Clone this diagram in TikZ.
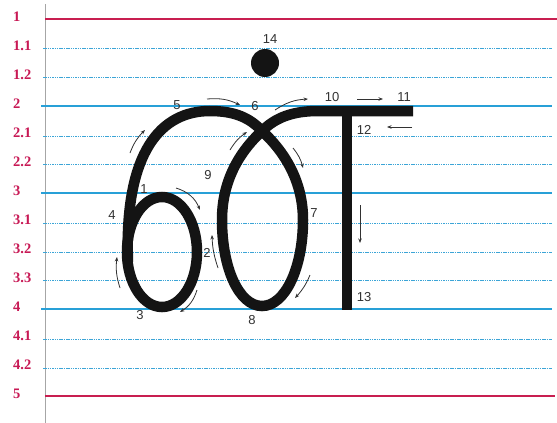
\documentclass[tikz,border=0pt]{standalone}
\usepackage{fontspec}
\setmainfont{Liberation Sans}
\newfontfamily\lblfont{Liberation Serif}
\usetikzlibrary{arrows.meta}
\definecolor{redline}{RGB}{200,30,80}
\definecolor{blueline}{RGB}{40,160,215}
\definecolor{dotline}{RGB}{60,165,215}
\definecolor{lblred}{RGB}{200,25,85}
\definecolor{ink}{RGB}{20,20,20}
\definecolor{numgray}{RGB}{50,50,50}
\tikzset{
  redrule/.style={draw=redline,line width=1.8pt},
  bluerule/.style={draw=blueline,line width=1.6pt},
  dotrule/.style={draw=dotline,line width=1pt,dash pattern=on 1.5pt off 0.8pt},
  rowlabel/.style={font=\lblfont\bfseries\fontsize{14.5}{14.5}\selectfont,text=lblred,anchor=west,inner sep=0pt},
  glyph/.style={draw=ink,line width=10.5pt},
  hint/.style={draw=numgray,line width=0.8pt,-{Stealth[length=4.5pt,width=3.5pt]}},
  num/.style={font=\fontsize{13}{13}\selectfont,text=numgray,inner sep=0pt}
}
\begin{document}
\begin{tikzpicture}[x=1pt,y=-1pt]
\useasboundingbox (0,0) rectangle (557,423);
\fill[white] (0,0) rectangle (557,423);
% margin line
\draw[gray!70,line width=0.8pt] (45,4) -- (45,423);
% rules
\draw[redrule] (45,19) -- (557,19);
\draw[dotrule] (43,48) -- (552,48);
\draw[dotrule] (43,77) -- (552,77);
\draw[bluerule] (41,106) -- (552,106);
\draw[dotrule] (43,136) -- (552,136);
\draw[dotrule] (43,164) -- (552,164);
\draw[bluerule] (41,193) -- (552,193);
\draw[dotrule] (43,223) -- (552,223);
\draw[dotrule] (43,252) -- (552,252);
\draw[dotrule] (43,280) -- (552,280);
\draw[bluerule] (41,309) -- (552,309);
\draw[dotrule] (43,339) -- (552,339);
\draw[dotrule] (43,368) -- (552,368);
\draw[redrule] (45,396) -- (555,396);
% row labels
\node[rowlabel] (r1) at (13,17) {1};
\node[rowlabel] (r11) at (13,46) {1.1};
\node[rowlabel] (r12) at (13,75) {1.2};
\node[rowlabel] (r2) at (13,104) {2};
\node[rowlabel] (r21) at (13,133) {2.1};
\node[rowlabel] (r22) at (13,162) {2.2};
\node[rowlabel] (r3) at (13,191) {3};
\node[rowlabel] (r31) at (13,220) {3.1};
\node[rowlabel] (r32) at (13,249) {3.2};
\node[rowlabel] (r33) at (13,278) {3.3};
\node[rowlabel] (r4) at (13,307) {4};
\node[rowlabel] (r41) at (13,336) {4.1};
\node[rowlabel] (r42) at (13,365) {4.2};
\node[rowlabel] (r5) at (13,394) {5};
% glyph strokes
\draw[glyph] (162,252) ellipse [x radius=35, y radius=55];
\draw[glyph] (128,262) .. controls (124,150) and (162,111) .. (210,111)
  .. controls (235,111) and (250,118) .. (262,131)
  .. controls (288,155) and (303,185) .. (303,220)
  .. controls (303,268) and (285,306) .. (262,306)
  .. controls (239,306) and (222,268) .. (222,220)
  .. controls (222,185) and (236,155) .. (262,131)
  .. controls (275,118) and (292,111) .. (318,111) -- (413,111);
\draw[glyph] (347,111) -- (347,310);
\fill[ink] (265,63) circle (14);
% direction hints
\draw[hint] (176,188) to[bend left=25] (200,210);
\draw[hint] (218,268) to[bend left=8] (212,235);
\draw[hint] (197,290) to[bend left=20] (180,312);
\draw[hint] (120,288) to[bend left=12] (117,257);
\draw[hint] (130,153) to[bend left=12] (145,130);
\draw[hint] (207,99) to[bend left=15] (240,105);
\draw[hint] (230,150) to[bend left=12] (247,132);
\draw[hint] (275,110) to[bend left=15] (308,99);
\draw[hint] (293,148) to[bend left=12] (303,168);
\draw[hint] (310,275) to[bend left=10] (295,298);
\draw[hint] (357,99) -- (383,99);
\draw[hint] (412,127) -- (387,127);
\draw[hint] (360,205) -- (360,243);
% step numbers
\node[num] (n1) at (144,189) {1};
\node[num] (n2) at (207,253) {2};
\node[num] (n3) at (140,315) {3};
\node[num] (n4) at (112,215) {4};
\node[num] (n5) at (177,105) {5};
\node[num] (n6) at (255,106) {6};
\node[num] (n7) at (314,213) {7};
\node[num] (n8) at (252,320) {8};
\node[num] (n9) at (208,175) {9};
\node[num] (n10) at (332,97) {10};
\node[num] (n11) at (404,97) {11};
\node[num] (n12) at (364,130) {12};
\node[num] (n13) at (364,297) {13};
\node[num] (n14) at (270,39) {14};
\end{tikzpicture}
\end{document}
